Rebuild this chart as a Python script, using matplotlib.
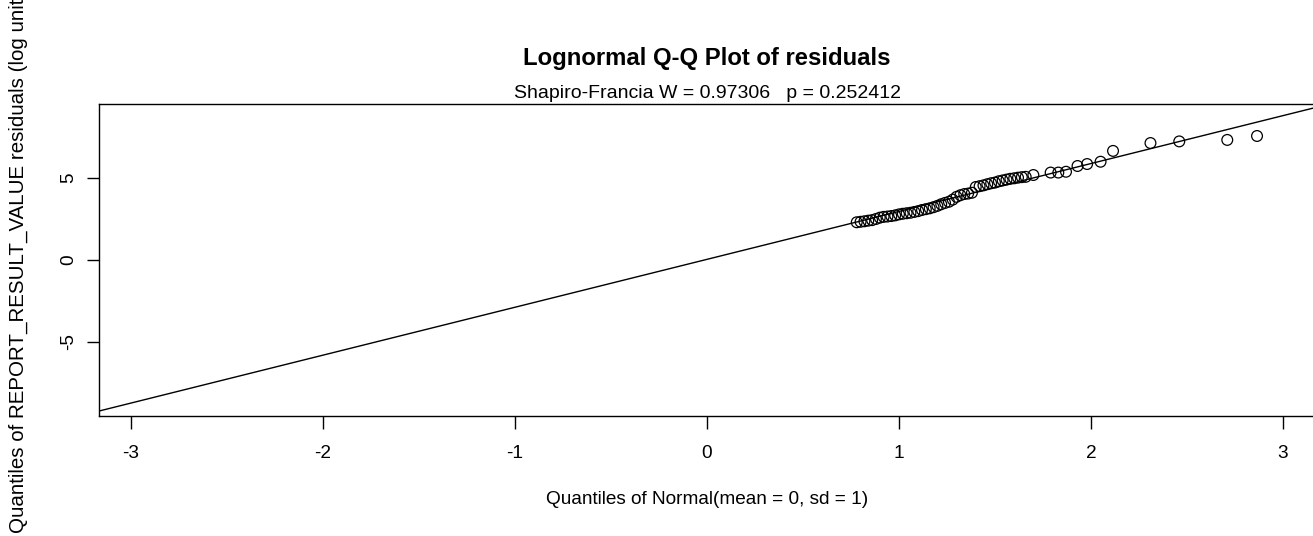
import matplotlib
matplotlib.use("Agg")
import matplotlib.pyplot as plt

plt.rcParams['font.family'] = ['Liberation Sans', 'DejaVu Sans']

# Data: normal quantiles (x) vs residual quantiles (y)
normal_q = [0.78, 0.80, 0.82, 0.84, 0.86, 0.88, 0.90, 0.92, 0.94, 0.96,
            0.98, 1.00, 1.02, 1.04, 1.06, 1.08, 1.10, 1.12, 1.14, 1.16,
            1.18, 1.20, 1.22, 1.24, 1.26, 1.28, 1.30, 1.32, 1.34, 1.36,
            1.38, 1.40, 1.42, 1.44, 1.46, 1.48, 1.50, 1.52, 1.54, 1.56,
            1.58, 1.60, 1.62, 1.64, 1.66, 1.70, 1.79, 1.83, 1.87, 1.93,
            1.98, 2.05, 2.115, 2.31, 2.46, 2.71, 2.865]
resid_q = [2.30, 2.33, 2.36, 2.40, 2.43, 2.50, 2.58, 2.63, 2.65, 2.68,
           2.72, 2.78, 2.82, 2.85, 2.88, 2.93, 2.98, 3.05, 3.10, 3.15,
           3.22, 3.30, 3.40, 3.48, 3.55, 3.68, 3.85, 3.95, 4.02, 4.05,
           4.10, 4.45, 4.50, 4.55, 4.62, 4.68, 4.72, 4.80, 4.85, 4.90,
           4.95, 4.98, 5.02, 5.05, 5.07, 5.18, 5.33, 5.33, 5.38, 5.73,
           5.85, 5.99, 6.65, 7.13, 7.23, 7.32, 7.56]
line_intercept = 0.04
line_slope = 2.92

x_ticks = [-3, -2, -1, 0, 1, 2, 3]
y_ticks = [-5, 0, 5]

title = "Lognormal Q-Q Plot of residuals"
subtitle = "Shapiro-Francia W = 0.97306   p = 0.252412"
xlabel = "Quantiles of Normal(mean = 0, sd = 1)"
ylabel = "Quantiles of REPORT_RESULT_VALUE residuals (log units)"

W, H = 1313, 536
fig = plt.figure(figsize=(W / 100, H / 100), dpi=100)
left, right, top, bottom = 99, 1315, 104, 416
ax = fig.add_axes([left / W, 1 - bottom / H, (right - left) / W, (bottom - top) / H])

ax.set_xlim(-3.167, 3.167)
ax.set_ylim(-9.51, 9.51)

ax.axline((0, line_intercept), slope=line_slope, color='black', lw=1.0)
ax.scatter(normal_q, resid_q, s=60, facecolors='none', edgecolors='black',
           linewidths=0.9, zorder=3)

fs = 13.7
ax.set_xticks(x_ticks)
ax.set_yticks(y_ticks)
ax.set_xticklabels([str(v) for v in x_ticks])
ax.set_yticklabels([str(v) for v in y_ticks], rotation=90, va='center')
ax.tick_params(axis='both', length=9, width=1, labelsize=fs, color='black')
ax.tick_params(axis='x', pad=12)
ax.tick_params(axis='y', pad=7)
for s in ax.spines.values():
    s.set_linewidth(1.0)
    s.set_color('black')

fig.text(707 / W, 1 - 58 / H, title, ha='center', va='center',
         fontsize=17.2, fontweight='bold')
fig.text(707 / W, 1 - 93 / H, subtitle, ha='center', va='center', fontsize=14)
fig.text(707 / W, 1 - 500 / H, xlabel, ha='center', va='center', fontsize=fs)
fig.text(18 / W, 1 - 257 / H, ylabel, ha='center', va='center', fontsize=14.8,
         rotation=90)

fig.savefig("out.png", dpi=100)
